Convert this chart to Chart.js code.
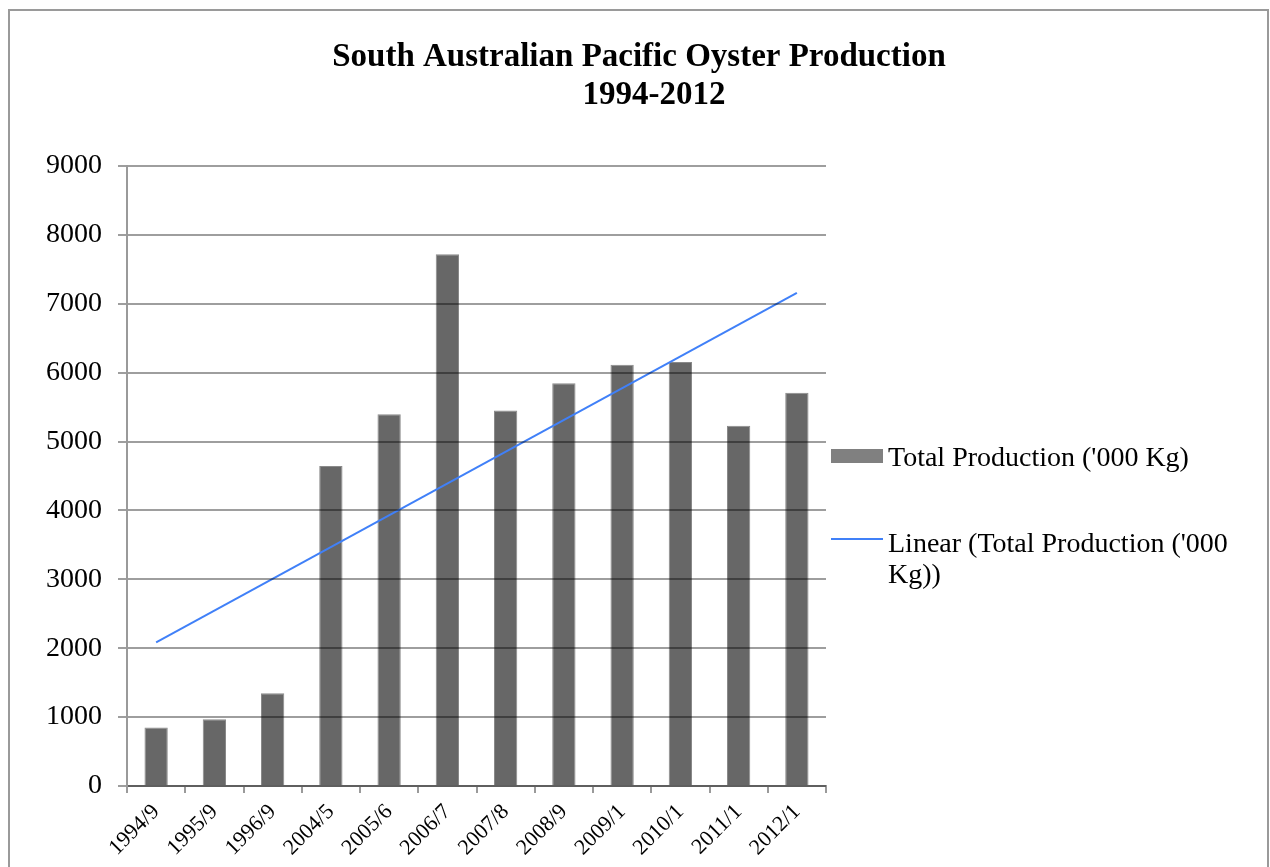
<!DOCTYPE html>
<html>
<head>
<meta charset="utf-8">
<title>South Australian Pacific Oyster Production</title>
<script src="https://cdn.jsdelivr.net/npm/chart.js@4"></script>
<style>
  body { margin: 0; background: #fff; }
  canvas { display: block; }
</style>
</head>
<body>
<canvas id="chart" width="1270" height="867"></canvas>
<script>
// values
const seasons = ["1994/9", "1995/9", "1996/9", "2004/5", "2005/6", "2006/7",
  "2007/8", "2008/9", "2009/1", "2010/1", "2011/1", "2012/1"];
const production = [850, 970, 1345, 4645, 5395, 7720, 5450, 5845, 6115, 6155, 5230, 5710];
// Excel linear trendline, only its two ends are visible
const trendValues = [2085, null, null, null, null, null, null, null, null, null, null, 7160];
const yTicks = [0, 1000, 2000, 3000, 4000, 5000, 6000, 7000, 8000, 9000];
const titleLines = ["South Australian Pacific Oyster Production", "1994-2012"];

const serif = "'Liberation Serif', 'Times New Roman', serif";

// grey frame and the two line title
const framePlugin = {
  id: "frame",
  beforeDraw(chart) {
    const ctx = chart.ctx;
    ctx.save();
    ctx.strokeStyle = "#9a9a9a";
    ctx.lineWidth = 2;
    ctx.strokeRect(9, 10, 1259, 900);
    ctx.fillStyle = "#000";
    ctx.font = "bold 33px " + serif;
    ctx.textAlign = "center";
    ctx.textBaseline = "middle";
    ctx.fillText(titleLines[0], 639, 57);
    ctx.fillText(titleLines[1], 654, 95);
    ctx.restore();
  }
};

// legend on the right, second label wraps like in Excel
const sideLegend = {
  id: "sideLegend",
  afterDraw(chart) {
    const ctx = chart.ctx;
    ctx.save();
    ctx.font = "28px " + serif;
    ctx.textBaseline = "middle";
    const rows = [456, 542];
    chart.data.datasets.forEach((ds, i) => {
      const y = rows[i];
      if (ds.type === "line") {
        ctx.strokeStyle = ds.borderColor;
        ctx.lineWidth = 2;
        ctx.beginPath();
        ctx.moveTo(831, y - 3);
        ctx.lineTo(883, y - 3);
        ctx.stroke();
      } else {
        ctx.fillStyle = "#808080";
        ctx.fillRect(831, y - 7, 52, 14);
      }
      ctx.fillStyle = "#000";
      // simple word wrap
      const words = ds.label.split(" ");
      let line = "";
      let ly = y + 3;
      words.forEach((w) => {
        const test = line ? line + " " + w : w;
        if (ctx.measureText(test).width > 372 && line) {
          ctx.fillText(line, 888, ly);
          line = w;
          ly += 31;
        } else {
          line = test;
        }
      });
      ctx.fillText(line, 888, ly);
    });
    ctx.restore();
  }
};

new Chart(document.getElementById("chart"), {
  data: {
    labels: seasons,
    datasets: [
      {
        type: "bar",
        label: "Total Production ('000 Kg)",
        data: production,
        backgroundColor: "#676767",
        borderColor: "#8a8a8a",
        borderWidth: 1,
        barPercentage: 0.4,
        categoryPercentage: 1,
        order: 2
      },
      {
        type: "line",
        label: "Linear (Total Production ('000 Kg))",
        data: trendValues,
        borderColor: "#4080f8",
        borderWidth: 2,
        pointRadius: 0,
        spanGaps: true,
        order: 1
      }
    ]
  },
  options: {
    responsive: false,
    animation: false,
    layout: { padding: { left: 0, right: 444, top: 166, bottom: 0 } },
    plugins: {
      legend: { display: false },
      tooltip: { enabled: false },
      title: { display: false }
    },
    scales: {
      x: {
        offset: true,
        grid: { drawOnChartArea: false, drawTicks: true, tickLength: 7, color: "#9a9a9a", lineWidth: 2, offset: true },
        border: { color: "#9a9a9a", width: 2 },
        ticks: {
          color: "#000",
          font: { family: serif, size: 22 },
          minRotation: 45,
          maxRotation: 45,
          autoSkip: false,
          padding: 6
        },
        afterFit(scale) { scale.height = 81; }
      },
      y: {
        min: 0,
        max: 9000,
        grid: { color: "rgba(0,0,0,0.38)", lineWidth: 2, tickLength: 9, z: 1 },
        border: { color: "#9a9a9a", width: 2, z: 2 },
        afterBuildTicks(scale) { scale.ticks = yTicks.map((v) => ({ value: v })); },
        ticks: {
          color: "#000",
          font: { family: serif, size: 28 },
          padding: 16,
          callback: (v) => String(v)
        },
        afterFit(scale) { scale.width = 127; }
      }
    }
  },
  plugins: [framePlugin, sideLegend]
});
</script>
</body>
</html>
